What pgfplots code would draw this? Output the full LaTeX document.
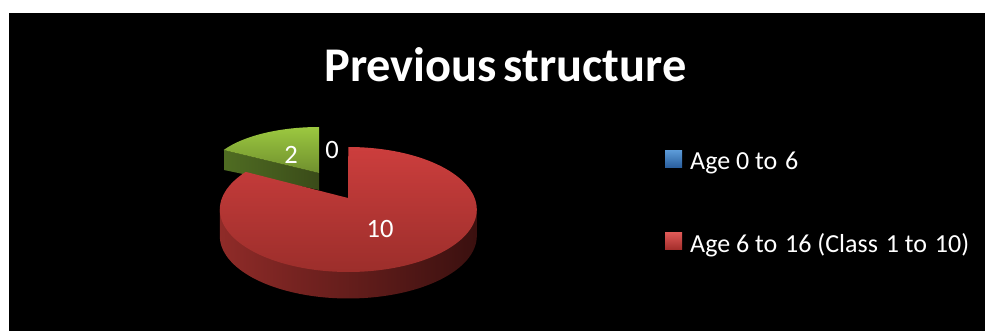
\documentclass[border=0pt]{standalone}
\usepackage{pgfplots}
\pgfplotsset{compat=1.18}
\usepackage{fontspec}
\setmainfont{Carlito}

% Slice values
\def\valA{0}
\def\valB{10}
\def\valC{2}
\pgfmathsetmacro{\total}{\valA+\valB+\valC}
% The green slice is seen foreshortened on the big slice's far rim
\pgfmathsetmacro{\greensweep}{360*\valC/\total}
\pgfmathsetmacro{\redsweep}{360*\valB/\total}
\pgfmathsetmacro{\redend}{90-\redsweep-7}
\pgfmathsetmacro{\greenend}{90+\greensweep}

\definecolor{redtop}{HTML}{CC3E3D}
\definecolor{redlow}{HTML}{9C2E2B}
\definecolor{wallL}{HTML}{8F2B28}
\definecolor{wallM}{HTML}{6E1F1C}
\definecolor{wallR}{HTML}{3A100F}
\definecolor{greentop}{HTML}{9CC840}
\definecolor{greenlow}{HTML}{6F8F2E}
\definecolor{gwallL}{HTML}{4F6C22}
\definecolor{gwallR}{HTML}{3A4B19}
\definecolor{keyblueT}{HTML}{5C9BD8}
\definecolor{keyblueB}{HTML}{2A5F9E}
\definecolor{keyredT}{HTML}{E05A58}
\definecolor{keyredB}{HTML}{A52F2C}

\begin{document}
\begin{tikzpicture}
\begin{axis}[
  scale only axis, width=985pt, height=331pt,
  xmin=0, xmax=985, ymin=0, ymax=331, y dir=reverse,
  axis lines=none, clip=true,
  axis background/.style={fill=white},
  title={\bfseries\fontsize{48.4}{50}\selectfont Previous\hspace{-4pt} structure},
  title style={at={(axis cs:505.5,88)}, anchor=base, text=white, inner sep=0pt},
  legend style={at={(axis cs:665,150)}, anchor=north west, draw=none, fill=none,
    text=white, font=\fontsize{26}{28}\selectfont, inner sep=0pt,
    row sep=58pt},
  legend cell align=left,
  legend image code/.code={\path[draw=none,#1] (0pt,-5.5pt) rectangle (17pt,11.5pt);},
]
% Chart area
\addplot[draw=none, fill=black, forget plot] coordinates {(9,13) (985,13) (985,331) (9,331)} -- cycle;

% Green slice: cut face, then top
\addplot[draw=none, left color=gwallL, right color=gwallR, forget plot]
  coordinates {(224,150) (319,173) (319,190) (224,170)} -- cycle;
\addplot[draw=none, top color=greentop, bottom color=greenlow, forget plot,
  domain=90:\greenend, samples=40, variable=\t]
  ({319+110*cos(t)},{173-46*sin(t)}) -- (axis cs:319,173) -- cycle;

% Red slice: rim, then top
\addplot[draw=none, left color=wallL, middle color=wallM, right color=wallR, forget plot,
  domain=180:360, samples=80, variable=\t]
  ({348.3+128.5*cos(t)},{236-62.5*sin(t)}) -- (axis cs:476.8,209) -- (axis cs:219.8,209) -- cycle;
\addplot[draw=none, top color=redtop, bottom color=redlow, forget plot,
  domain=90:\redend, samples=120, variable=\t]
  ({348.3+128.5*cos(t)},{209.5-62.5*sin(t)}) -- (axis cs:348,198) -- cycle;

% Value labels
\node[text=white, font=\fontsize{26.5}{28}\selectfont] at (axis cs:332,150) {\valA};
\node[text=white, font=\fontsize{26.5}{28}\selectfont] at (axis cs:380,229) {\valB};
\node[text=white, font=\fontsize{26.5}{28}\selectfont] at (axis cs:291,155) {\valC};

% Legend entries
\addlegendimage{top color=keyblueT, bottom color=keyblueB}
\addlegendentry{\hspace{6pt}Age 0 to\hspace{2pt} 6}
\addlegendimage{top color=keyredT, bottom color=keyredB}
\addlegendentry{\hspace{6pt}Age 6 to\hspace{2pt} 16 (Class\hspace{2pt} 1 to\hspace{2pt} 10)}
\end{axis}
\end{tikzpicture}
\end{document}
